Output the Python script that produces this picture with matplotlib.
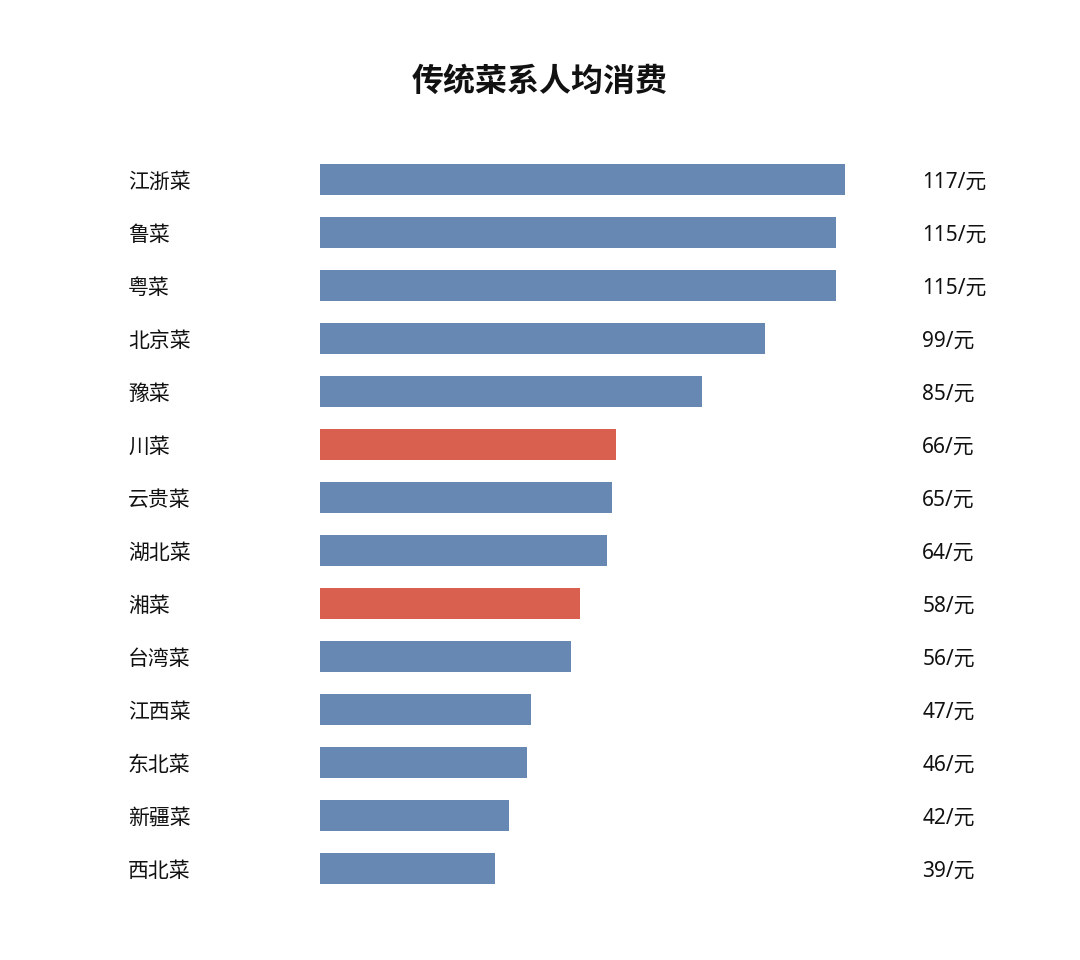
import matplotlib
matplotlib.use("Agg")
from matplotlib import pyplot as plt
from matplotlib import transforms

plt.rcParams['font.family'] = ['Noto Sans CJK SC', 'DejaVu Sans']

categories = ['江浙菜', '鲁菜', '粤菜', '北京菜', '豫菜', '川菜', '云贵菜',
              '湖北菜', '湘菜', '台湾菜', '江西菜', '东北菜', '新疆菜', '西北菜']
values = [117, 115, 115, 99, 85, 66, 65, 64, 58, 56, 47, 46, 42, 39]
highlight = ['川菜', '湘菜']

blue = '#6688b3'
red = '#d9604f'
colors = [red if c in highlight else blue for c in categories]

fig = plt.figure(figsize=(10.8, 9.6), dpi=100)
ax = fig.add_axes([0.2963, 0.0682, 0.5405, 0.7729])

y = list(range(len(categories)))
ax.barh(y, values, height=0.585, color=colors)
ax.set_xlim(0, 130)
ax.set_ylim(len(categories) - 0.5, -0.5)
ax.axis('off')

# labels sit in figure x, data y (small nudge down to line up with the bars)
trans = transforms.blended_transform_factory(fig.transFigure, ax.transData)
for yi, cat, val in zip(y, categories, values):
    ax.text(0.1185, yi + 0.06, cat, transform=trans, ha='left', va='center',
            fontsize=15, fontweight='medium', color='#111111')
    ax.text(0.854, yi + 0.06, f'{val}/元', transform=trans, ha='left',
            va='center', fontsize=15, fontweight='medium', color='#111111',
            family=['Noto Sans', 'Noto Sans CJK SC'])

fig.text(0.5, 1 - 82 / 960, '传统菜系人均消费', ha='center', va='center',
         fontsize=23, fontweight='bold', color='#111111')

fig.savefig('out.png', dpi=100, facecolor='white')
